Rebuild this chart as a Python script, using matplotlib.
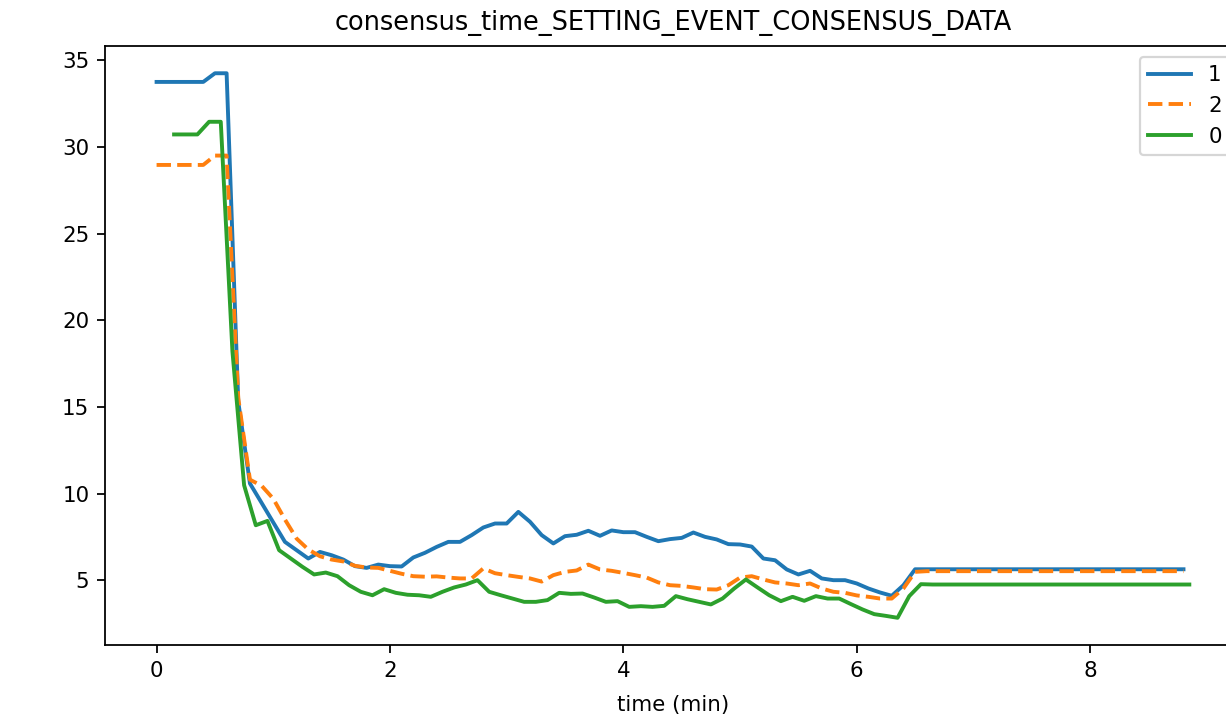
import numpy as np
import matplotlib
matplotlib.use("Agg")
import matplotlib.pyplot as plt

plt.rcParams['font.size'] = 9.6

# sample grid: one point every 0.1 min
time_1 = np.round(np.arange(89) * 0.1, 2)
time_0 = np.round(np.arange(1, 89) * 0.1 + 0.05, 2)

series_1 = [33.75, 33.75, 33.75, 33.75, 33.75, 34.25, 34.25, 15.3, 10.58, 9.46,
            8.33, 7.21, 6.73, 6.25, 6.63, 6.44, 6.19, 5.81, 5.71, 5.9,
            5.81, 5.79, 6.31, 6.58, 6.92, 7.21, 7.21, 7.6, 8.04, 8.27,
            8.27, 8.94, 8.37, 7.6, 7.12, 7.54, 7.62, 7.85, 7.56, 7.87,
            7.77, 7.77, 7.5, 7.25, 7.37, 7.44, 7.75, 7.5, 7.35, 7.08,
            7.06, 6.94, 6.25, 6.15, 5.62, 5.33, 5.54, 5.1, 5.0, 5.0,
            4.81, 4.52, 4.29, 4.1, 4.71, 5.63] + [5.63] * 23

series_2 = [28.96, 28.96, 28.96, 28.96, 28.96, 29.5, 29.5, 15.5, 10.8, 10.45,
            9.7, 8.5, 7.4, 6.77, 6.38, 6.19, 6.08, 5.83, 5.73, 5.71,
            5.54, 5.37, 5.23, 5.2, 5.22, 5.15, 5.1, 5.1, 5.68, 5.4,
            5.29, 5.19, 5.1, 4.92, 5.29, 5.48, 5.56, 5.9, 5.62, 5.54,
            5.42, 5.29, 5.15, 4.87, 4.71, 4.67, 4.58, 4.48, 4.46, 4.71,
            5.15, 5.23, 5.04, 4.87, 4.81, 4.71, 4.81, 4.52, 4.33, 4.27,
            4.12, 4.04, 3.94, 3.94, 4.52, 5.48] + [5.52] * 23

series_0 = [30.72, 30.72, 30.72, 31.45, 31.45, 18.2, 10.48, 8.17, 8.42,
            6.73, 6.25, 5.77, 5.33, 5.44, 5.23, 4.71, 4.33, 4.13, 4.48,
            4.27, 4.16, 4.13, 4.04, 4.33, 4.58, 4.75, 5.0, 4.33, 4.13,
            3.94, 3.75, 3.75, 3.85, 4.27, 4.21, 4.23, 4.0, 3.75, 3.79,
            3.46, 3.5, 3.46, 3.52, 4.08, 3.9, 3.75, 3.6, 3.94, 4.52,
            5.04, 4.58, 4.13, 3.79, 4.04, 3.81, 4.08, 3.94, 3.94, 3.62,
            3.31, 3.04, 2.94, 2.83, 4.08, 4.77] + [4.75] * 23

fig = plt.figure(figsize=(1226 / 160, 717 / 160), dpi=160)
ax = fig.add_axes([0.0856, 0.1004, 0.9266, 0.8354])

ax.plot(time_1, series_1, '-', color='tab:blue', lw=1.75, label='1')
ax.plot(time_1, series_2, '--', color='tab:orange', lw=1.75, label='2')
ax.plot(time_0, series_0, '-', color='tab:green', lw=1.75, label='0')

ax.set_title('consensus_time_SETTING_EVENT_CONSENSUS_DATA', pad=7)
ax.set_xlabel('time (min)', labelpad=6.5)
ax.legend(loc='upper right')

fig.savefig('out.png', dpi=160)
